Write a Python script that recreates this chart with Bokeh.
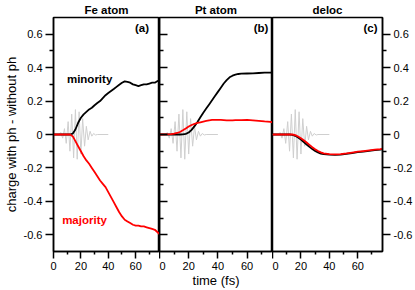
from bokeh.plotting import figure
from bokeh.layouts import row
from bokeh.models import Range1d, FixedTicker, Label
from bokeh.embed import file_html
from bokeh.resources import INLINE

FONT = "Liberation Sans"

# ---------------- data ----------------
panel_titles = ["Fe atom", "Pt atom", "deloc"]
panel_tags = ["(a)", "(b)", "(c)"]

x_ticks = [0, 20, 40, 60]
x_minor = [10, 30, 50, 70]
y_ticks = [-0.6, -0.4, -0.2, 0.0, 0.2, 0.4, 0.6]
y_tick_labels = ["-0.6", "-0.4", "-0.2", "0", "0.2", "0.4", "0.6"]
y_minor = [-0.5, -0.3, -0.1, 0.1, 0.3, 0.5]

# laser pulse (light grey), extrema of the oscillation
pulse_t = [0, 4.0, 5.3, 6.7, 8.0, 9.3, 10.7, 12.0, 13.3, 14.7, 16.0, 17.3, 18.7,
           20.0, 21.3, 22.7, 24.0, 25.3, 26.7, 28.0, 29.3, 30.7, 32.0, 40.0]
pulse_v = [0, 0, 0.012, -0.022, 0.035, -0.053, 0.077, -0.100, 0.122, -0.140, 0.149,
           -0.148, 0.136, -0.117, 0.095, -0.070, 0.049, -0.032, 0.019, -0.010, 0.006,
           -0.003, 0, 0]

# Fe atom
fe_t = [0, 12, 14, 16, 18, 20, 22, 24, 26, 28, 30, 32, 34, 36, 38, 40, 42, 44, 46, 48,
        50, 52, 54, 56, 58, 60, 62, 64, 66, 68, 70, 72, 74, 76, 77.4]
fe_minority = [0, 0, 0.005, 0.03, 0.07, 0.10, 0.12, 0.135, 0.15, 0.16, 0.175, 0.188,
               0.20, 0.218, 0.235, 0.248, 0.26, 0.272, 0.285, 0.298, 0.31, 0.318, 0.315,
               0.31, 0.30, 0.295, 0.29, 0.295, 0.30, 0.30, 0.305, 0.31, 0.31, 0.32, 0.325]
fe_majority = [0, 0, -0.01, -0.04, -0.07, -0.10, -0.13, -0.155, -0.175, -0.20, -0.225,
               -0.25, -0.275, -0.295, -0.315, -0.345, -0.375, -0.405, -0.435, -0.465,
               -0.49, -0.51, -0.52, -0.53, -0.54, -0.545, -0.545, -0.55, -0.55, -0.555,
               -0.56, -0.565, -0.57, -0.585, -0.595]

# Pt atom
pt_t = [0, 8, 10, 12, 14, 16, 18, 20, 22, 24, 26, 28, 30, 32, 34, 36, 38, 40, 42, 44,
        46, 48, 50, 52, 54, 56, 60, 64, 68, 72, 76, 77.4]
pt_minority = [0, 0, 0, 0, 0, 0.001, 0.004, 0.012, 0.028, 0.05, 0.075, 0.103, 0.13,
               0.155, 0.18, 0.205, 0.23, 0.255, 0.28, 0.305, 0.325, 0.342, 0.352, 0.358,
               0.362, 0.364, 0.365, 0.366, 0.368, 0.37, 0.37, 0.372]
pt_majority = [0, 0.002, 0.005, 0.009, 0.015, 0.025, 0.036, 0.048, 0.057, 0.064, 0.069,
               0.073, 0.077, 0.081, 0.085, 0.087, 0.088, 0.088, 0.087, 0.086, 0.085,
               0.085, 0.085, 0.086, 0.086, 0.086, 0.087, 0.085, 0.082, 0.078, 0.075, 0.073]

# delocalised
de_t = [0, 12, 14, 16, 18, 20, 22, 24, 26, 28, 30, 32, 34, 36, 40, 44, 48, 52, 56, 60,
        64, 68, 72, 76, 77.4]
de_minority = [0, 0, -0.002, -0.008, -0.018, -0.03, -0.045, -0.06, -0.074, -0.087,
               -0.098, -0.107, -0.114, -0.118, -0.121, -0.122, -0.12, -0.116, -0.111,
               -0.106, -0.102, -0.098, -0.094, -0.09, -0.088]
de_majority = [0, 0, 0.0, -0.004, -0.012, -0.022, -0.034, -0.048, -0.062, -0.076,
               -0.088, -0.099, -0.107, -0.113, -0.118, -0.119, -0.117, -0.113, -0.108,
               -0.103, -0.099, -0.095, -0.091, -0.087, -0.085]

series = [(fe_t, fe_minority, fe_majority),
          (pt_t, pt_minority, pt_majority),
          (de_t, de_minority, de_majority)]

# ---------------- layout ----------------
H = 290
TOP = 16
BOT = 38
FRAME_W = [111, 113, 111]
LEFT = 48
RIGHT = 32

y_range = Range1d(-0.7, 0.7)


def style_axis_common(ax):
    ax.axis_line_color = "black"
    ax.axis_line_width = 1.5
    ax.major_tick_line_color = "black"
    ax.major_tick_line_width = 1.5
    ax.minor_tick_line_color = "black"
    ax.minor_tick_line_width = 1.5
    ax.major_label_text_font = FONT
    ax.major_label_text_font_size = "11px"
    ax.major_label_text_color = "black"
    ax.axis_label_text_font = FONT
    ax.axis_label_text_font_size = "13px"
    ax.axis_label_text_font_style = "normal"
    ax.axis_label_text_color = "black"


figs = []
for i in range(3):
    ml = LEFT if i == 0 else 0
    mr = RIGHT if i == 2 else 0
    p = figure(width=FRAME_W[i] + ml + mr, height=H,
               x_range=Range1d(0, 77.4), y_range=y_range,
               title=panel_titles[i],
               toolbar_location=None, output_backend="svg",
               y_axis_location=("right" if i == 2 else "left"),
               min_border_left=ml, min_border_right=mr,
               min_border_top=TOP, min_border_bottom=BOT)
    p.title.align = "center"
    p.title.text_font = FONT
    p.title.text_font_size = "11.5px"
    p.title.text_font_style = "bold"
    p.title.text_color = "black"
    p.title.standoff = 3
    p.title.offset = 0
    p.grid.visible = False
    p.outline_line_color = "black"
    p.outline_line_width = 1.5
    p.background_fill_color = "white"
    p.border_fill_color = "white"

    xa = p.xaxis[0]
    style_axis_common(xa)
    xa.ticker = FixedTicker(ticks=x_ticks, minor_ticks=x_minor)
    xa.major_tick_in = 0
    xa.major_tick_out = 7
    xa.minor_tick_in = 0
    xa.minor_tick_out = 3
    xa.major_label_standoff = 3
    if i == 1:
        xa.axis_label = "time (fs)"
        xa.axis_label_standoff = 0

    ya = p.yaxis[0]
    style_axis_common(ya)
    ya.ticker = FixedTicker(ticks=y_ticks, minor_ticks=y_minor)
    if i == 1:
        ya.major_label_overrides = {t: "" for t in y_ticks}
        ya.major_tick_in = 8
        ya.major_tick_out = 0
        ya.minor_tick_in = 4
        ya.minor_tick_out = 0
        ya.major_label_standoff = 0
    else:
        ya.major_label_overrides = {t: l for t, l in zip(y_ticks, y_tick_labels)}
        ya.major_tick_in = 0
        ya.major_tick_out = 8
        ya.minor_tick_in = 0
        ya.minor_tick_out = 4
        ya.major_label_standoff = 3
    if i == 0:
        ya.axis_label = "charge with ph - without ph"
        ya.axis_label_standoff = 2

    t, mino, majo = series[i]
    p.line(pulse_t, pulse_v, line_color="#cfcfcf", line_width=1)
    p.line(t, mino, line_color="black", line_width=1.8)
    p.line(t, majo, line_color="#ff0000", line_width=1.8)

    tag_x = [69.7, 74.6, 73.9][i]
    p.add_layout(Label(x=tag_x, y=0.672, text=panel_tags[i], text_align="right",
                       text_baseline="top", text_font=FONT,
                       text_font_size="11.5px", text_font_style="bold",
                       text_color="black"))
    figs.append(p)

# series names
figs[0].add_layout(Label(x=9.8, y=0.332, text="minority", text_align="left",
                         text_baseline="alphabetic", text_font=FONT,
                         text_font_size="11.5px", text_font_style="bold",
                         text_color="black"))
figs[0].add_layout(Label(x=6.3, y=-0.51, text="majority", text_align="left",
                         text_baseline="alphabetic", text_font=FONT,
                         text_font_size="11.5px", text_font_style="bold",
                         text_color="#ff0000"))

layout = row(*figs)
open("out.html", "w").write(file_html(layout, INLINE))
